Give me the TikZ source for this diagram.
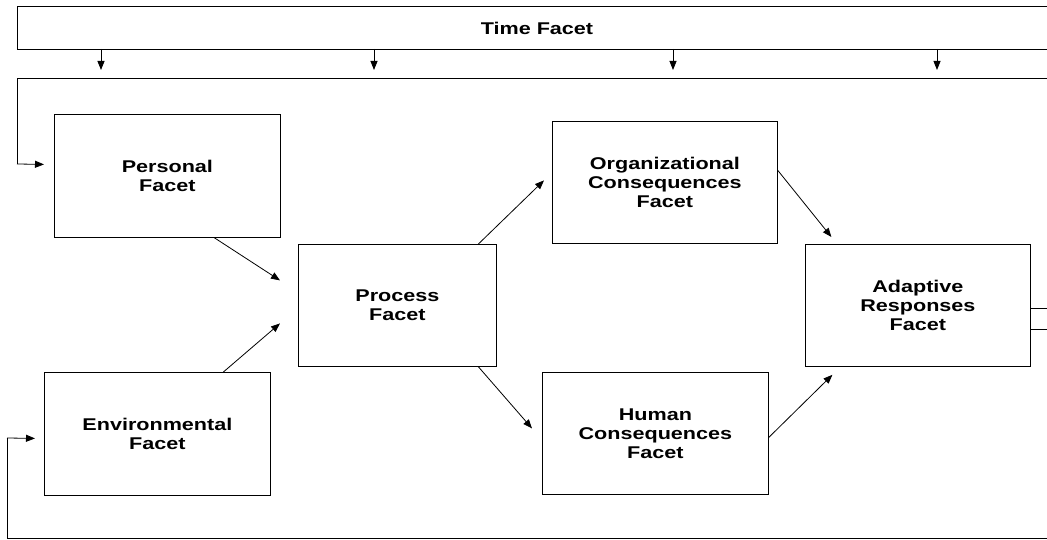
\documentclass[tikz,border=0pt]{standalone}
\usepackage{fontspec}
\setmainfont{Liberation Sans}
\usetikzlibrary{arrows.meta}
\tikzset{
  facet/.style={draw, line width=0.8pt, anchor=north west, inner sep=0pt},
  lbl/.style={font=\fontsize{17}{19}\selectfont\bfseries, align=center, inner sep=0pt},
  conn/.style={line width=0.8pt, -{Triangle[length=9pt,width=7pt]}},
  wire/.style={line width=0.8pt}
}
\newcommand{\wstr}[1]{\scalebox{1.27}[1]{#1}}
\begin{document}
\begin{tikzpicture}[x=1pt,y=-1pt]
\useasboundingbox (0,0) rectangle (1047,540);
\clip (0,0) rectangle (1047,540);
% Time facet (open on right)
\draw[wire] (1060,6) -- (17,6) -- (17,49) -- (1060,49);
\node[lbl] (time) at (537,28) {\wstr{Time Facet}};
% boxes
\node[facet, minimum width=226pt, minimum height=123pt] (pers) at (54,114) {};
\node[lbl] (persl) at (pers.center) {\wstr{Personal}\\\wstr{Facet}};
\node[facet, minimum width=226pt, minimum height=123pt] (env) at (44,372) {};
\node[lbl] (envl) at (env.center) {\wstr{Environmental}\\\wstr{Facet}};
\node[facet, minimum width=198pt, minimum height=122pt] (proc) at (298,244) {};
\node[lbl] (procl) at (proc.center) {\wstr{Process}\\\wstr{Facet}};
\node[facet, minimum width=225pt, minimum height=122pt] (org) at (552,121) {};
\node[lbl] (orgl) at (org.center) {\wstr{Organizational}\\\wstr{Consequences}\\\wstr{Facet}};
\node[facet, minimum width=226pt, minimum height=122pt] (hum) at (542,372) {};
\node[lbl] (huml) at (hum.center) {\wstr{Human}\\\wstr{Consequences}\\\wstr{Facet}};
\node[facet, minimum width=225pt, minimum height=122pt] (adap) at (805,244) {};
\node[lbl] (adapl) at (adap.center) {\wstr{Adaptive}\\\wstr{Responses}\\\wstr{Facet}};
% time arrows
\coordinate (t1) at (101,49); \coordinate (f1) at (101,70);
\coordinate (t2) at (374,49); \coordinate (f2) at (374,70);
\coordinate (t3) at (673,49); \coordinate (f3) at (673,70);
\coordinate (t4) at (937,49); \coordinate (f4) at (937,70);
\foreach \i in {1,2,3,4} \draw[conn] (t\i) -- (f\i);
% top feedback frame
\coordinate (ftop) at (1060,78);
\coordinate (fcorner) at (17,78);
\coordinate (fdown) at (17,164);
\draw[wire] (ftop) -- (fcorner) -- (fdown);
\draw[conn] (fdown) -- ([xshift=-10pt,yshift=11.5pt]pers.west);
% bottom feedback loop
\coordinate (bright) at (1060,538);
\coordinate (bcorner) at (7,538);
\coordinate (bup) at (7,438);
\draw[wire] (bright) -- (bcorner) -- (bup);
\draw[conn] (bup) -- ([xshift=-9pt,yshift=-4.5pt]env.west);
% right exits
\coordinate (r1) at (1060,308);
\coordinate (r2) at (1060,329);
\draw[wire] (adap.east |- r1) -- (r1);
\draw[wire] (adap.east |- r2) -- (r2);
% flow arrows
\draw[conn] ([xshift=47pt]pers.south) -- ([xshift=-18pt,yshift=25pt]proc.west);
\draw[conn] ([xshift=66pt]env.north) -- ([xshift=-18pt,yshift=-18pt]proc.west);
\draw[conn] ([xshift=81pt]proc.north) -- ([xshift=-8pt,yshift=2pt]org.west);
\draw[conn] ([xshift=81pt]proc.south) -- ([xshift=-10pt,yshift=5pt]hum.west);
\draw[conn] ([yshift=12pt]org.east) -- ([xshift=-86.5pt,yshift=7pt]adap.north);
\draw[conn] ([yshift=-4pt]hum.east) -- ([xshift=-85.5pt,yshift=-8pt]adap.south);
\end{tikzpicture}
\end{document}
